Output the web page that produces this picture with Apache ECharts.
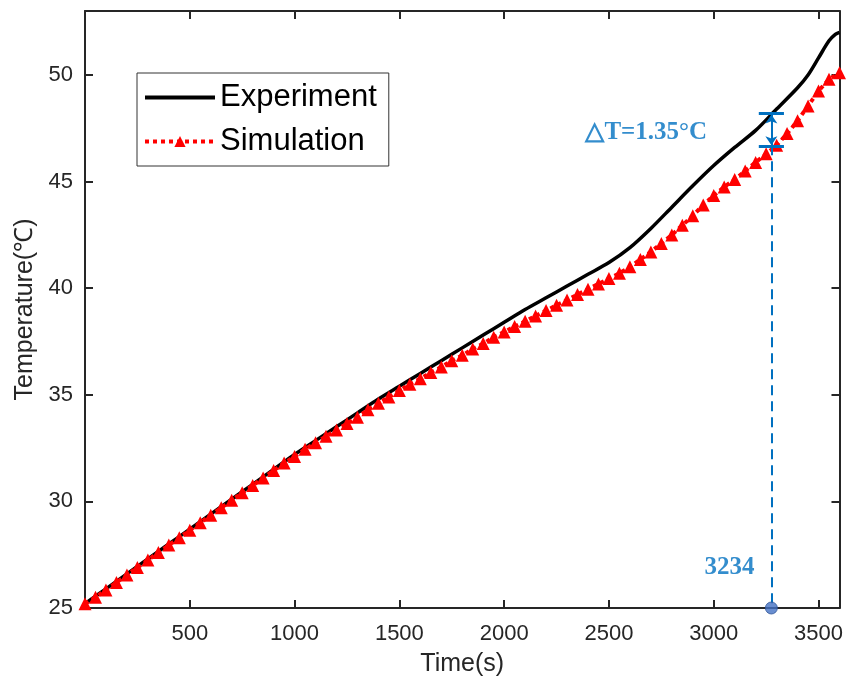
<!DOCTYPE html>
<html>
<head>
<meta charset="utf-8">
<script src="https://cdn.jsdelivr.net/npm/echarts@6/dist/echarts.min.js"></script>
<style>
  html, body { margin: 0; padding: 0; background: #fff; }
  #chart { width: 846px; height: 682px; }
</style>
</head>
<body>
<div id="chart"></div>
<script>
// experiment curve (s, degC)
var expTime = [0, 100, 200, 300, 400, 500, 600, 700, 800, 900, 1000, 1100, 1200, 1300, 1400, 1500,
  1600, 1700, 1800, 1900, 2000, 2100, 2200, 2300, 2400, 2500, 2600, 2700, 2800, 2900, 3000,
  3100, 3200, 3300, 3400, 3450, 3500, 3550, 3580, 3600]
var expTemp = [25.2, 25.9, 26.6, 27.3, 28.0, 28.7, 29.4, 30.1, 30.8, 31.5, 32.2, 32.85, 33.5, 34.15, 34.8, 35.4,
  36.0, 36.6, 37.2, 37.8, 38.4, 39.0, 39.55, 40.1, 40.65, 41.2, 41.9, 42.8, 43.8, 44.8, 45.75,
  46.6, 47.4, 48.4, 49.4, 50.0, 50.8, 51.6, 51.9, 52.0]

// simulation curve (s, degC)
var simTime = [0, 50, 100, 150, 200, 250, 300, 350, 400, 450, 500, 550, 600, 650, 700, 750, 800, 850, 900, 950,
  1000, 1050, 1100, 1150, 1200, 1250, 1300, 1350, 1400, 1450, 1500, 1550, 1600, 1650, 1700, 1750,
  1800, 1850, 1900, 1950, 2000, 2050, 2100, 2150, 2200, 2250, 2300, 2350, 2400, 2450, 2500, 2550,
  2600, 2650, 2700, 2750, 2800, 2850, 2900, 2950, 3000, 3050, 3100, 3150, 3200, 3250, 3300, 3350,
  3400, 3450, 3500, 3550, 3600]
var simTemp = [25.2, 25.5, 25.85, 26.2, 26.55, 26.9, 27.25, 27.6, 27.95, 28.3, 28.65, 29.0, 29.35, 29.7, 30.05, 30.4, 30.75, 31.1, 31.45, 31.8,
  32.1, 32.45, 32.75, 33.05, 33.35, 33.65, 33.95, 34.3, 34.6, 34.9, 35.2, 35.5, 35.75, 36.05, 36.3, 36.6,
  36.85, 37.15, 37.4, 37.7, 37.95, 38.2, 38.45, 38.7, 38.95, 39.2, 39.45, 39.7, 39.95, 40.2, 40.45, 40.7,
  41.0, 41.35, 41.7, 42.1, 42.5, 42.95, 43.4, 43.9, 44.35, 44.75, 45.1, 45.5, 45.9, 46.3, 46.7, 47.25,
  47.85, 48.55, 49.25, 49.8, 50.1]

// annotation: time of the marked gap and the two temperatures
var markTime = 3275
var markTemp = [48.2, 46.65]
var deltaText = '△T=1.35°C'
var deltaPos = [2678, 47.28]
var timeText = '3234'
var timePos = [3075, 26.9]

var blue = '#0070C0'
var axisColor = '#262626'

function pairs(xs, ys) {
  return xs.map(function (x, i) { return [x, ys[i]] })
}

var chart = echarts.init(document.getElementById('chart'))

var baseAxis = {
  type: 'value',
  splitLine: { show: false },
  axisLine: { show: true, onZero: false, lineStyle: { color: axisColor, width: 2 } },
  axisTick: { show: true, inside: true, length: 8, lineStyle: { color: axisColor, width: 2 } }
}

chart.setOption({
  animation: false,
  grid: { left: 85, top: 11, right: 3, bottom: 73 },
  legend: {
    orient: 'vertical',
    left: 137,
    top: 73,
    padding: [9, 12, 9, 6],
    itemGap: 13,
    itemWidth: 70,
    itemHeight: 14,
    borderColor: '#333',
    borderWidth: 1,
    backgroundColor: '#fff',
    lineStyle: { width: 4 },
    textStyle: { fontFamily: 'Liberation Sans', fontSize: 31, color: '#000' },
    data: [
      { name: 'Experiment', itemStyle: { opacity: 0 } },
      { name: 'Simulation' }
    ]
  },
  xAxis: [
    Object.assign({}, baseAxis, {
      min: 0, max: 3600, interval: 500, position: 'bottom',
      name: 'Time(s)', nameLocation: 'middle', nameGap: 44,
      nameTextStyle: { fontFamily: 'Liberation Sans', fontSize: 25, color: axisColor },
      axisLabel: {
        fontFamily: 'Liberation Sans', fontSize: 22, color: axisColor, margin: 15,
        formatter: function (v) { return (v === 0 || v === 3600) ? '' : v }
      }
    }),
    Object.assign({}, baseAxis, {
      min: 0, max: 3600, interval: 500, position: 'top', axisLabel: { show: false }
    })
  ],
  yAxis: [
    Object.assign({}, baseAxis, {
      min: 25, max: 53, interval: 5, position: 'left',
      name: 'Temperature(℃)', nameLocation: 'middle', nameGap: 44,
      nameTextStyle: { fontFamily: 'Liberation Sans', fontSize: 25, color: axisColor },
      axisLabel: {
        fontFamily: 'Liberation Sans', fontSize: 22, color: axisColor, margin: 12,
        formatter: function (v) { return v % 5 === 0 ? v : '' }
      }
    }),
    Object.assign({}, baseAxis, {
      min: 25, max: 53, interval: 5, position: 'right', axisLabel: { show: false }
    })
  ],
  series: [
    {
      name: 'Experiment',
      type: 'line',
      data: pairs(expTime, expTemp),
      smooth: 0.3,
      showSymbol: false,
      lineStyle: { color: '#000', width: 3.5 },
      itemStyle: { color: '#000' }
    },
    {
      name: 'Simulation',
      type: 'line',
      data: pairs(simTime, simTemp),
      symbol: 'triangle',
      symbolSize: 13,
      showAllSymbol: true,
      lineStyle: { color: '#ff0000', width: 4, type: 'dotted' },
      itemStyle: { color: '#ff0000' }
    },
    {
      name: 'mark',
      type: 'scatter',
      clip: false,
      symbolSize: 12,
      itemStyle: { color: '#4472C4', borderColor: '#2F5597', borderWidth: 1 },
      data: [[markTime, 25]],
      z: 5,
      markLine: {
        silent: true,
        symbol: 'none',
        label: { show: false },
        data: [
          [{ coord: [markTime, markTemp[0]], lineStyle: { type: [10, 6], width: 2, color: blue } },
           { coord: [markTime, 25] }],
          [{ coord: [markTime - 60, markTemp[0]], lineStyle: { type: 'solid', width: 3, color: blue } },
           { coord: [markTime + 60, markTemp[0]] }],
          [{ coord: [markTime - 60, markTemp[1]], lineStyle: { type: 'solid', width: 3, color: blue } },
           { coord: [markTime + 60, markTemp[1]] }],
          [{ coord: [markTime, markTemp[0] - 0.05], symbol: 'arrow', symbolSize: 9, lineStyle: { type: 'solid', width: 2, color: blue } },
           { coord: [markTime, markTemp[1] + 0.05], symbol: 'arrow', symbolSize: 9 }]
        ]
      }
    },
    {
      name: 'labels',
      type: 'scatter',
      symbolSize: 0,
      silent: true,
      label: {
        show: true,
        position: 'inside',
        fontFamily: 'Liberation Serif',
        fontWeight: 'bold',
        fontSize: 25,
        color: blue,
        formatter: function (p) { return p.data[2] }
      },
      data: [
        [deltaPos[0], deltaPos[1], deltaText],
        [timePos[0], timePos[1], timeText]
      ]
    }
  ]
})
</script>
</body>
</html>
